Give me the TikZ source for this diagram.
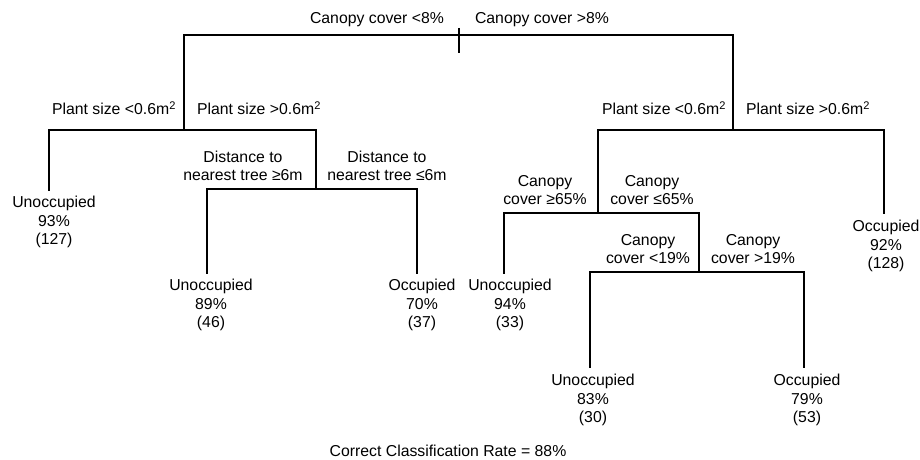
\documentclass[tikz,border=0pt]{standalone}
\usepackage{fontspec}
\setmainfont{Liberation Sans}
\begin{document}
\begin{tikzpicture}[x=1pt,y=-1pt,
  lbl/.style={inner sep=0pt,align=center,font=\fontsize{15.8}{18.6}\selectfont},
  leaf/.style={inner sep=0pt,align=center,font=\fontsize{15.8}{18.6}\selectfont},
  edge/.style={line width=1.8pt,line cap=rect}]
\useasboundingbox (0,0) rectangle (920,460);
% junction coordinates
\coordinate (top) at (458.7,28);
\coordinate (tickb) at (458.7,53);
\coordinate (a1) at (184,35);
\coordinate (b1) at (733,35);
\coordinate (a2) at (184,130);
\coordinate (a2l) at (49,130);
\coordinate (a2r) at (316,130);
\coordinate (e1) at (49,190);
\coordinate (a3) at (316,189);
\coordinate (a3l) at (207,189);
\coordinate (a3r) at (417,189);
\coordinate (e2) at (207,273);
\coordinate (e3) at (417,273);
\coordinate (b2) at (733,130);
\coordinate (b2l) at (598,130);
\coordinate (b2r) at (884,130);
\coordinate (e4) at (884,213);
\coordinate (b3) at (598,213);
\coordinate (b3l) at (504,213);
\coordinate (b3r) at (699,213);
\coordinate (e5) at (504,273);
\coordinate (b4) at (699,272);
\coordinate (b4l) at (590,272);
\coordinate (b4r) at (804,272);
\coordinate (e6) at (590,367);
\coordinate (e7) at (804,367);
% tree lines
\draw[edge] (a1) -- (b1);
\draw[edge,line cap=butt] (top) -- (tickb);
\draw[edge] (a1) -- (a2);
\draw[edge] (a2l) -- (a2r);
\draw[edge] (a2l) -- (e1);
\draw[edge] (a2r) -- (a3);
\draw[edge] (a3l) -- (a3r);
\draw[edge] (a3l) -- (e2);
\draw[edge] (a3r) -- (e3);
\draw[edge] (b1) -- (b2);
\draw[edge] (b2l) -- (b2r);
\draw[edge] (b2r) -- (e4);
\draw[edge] (b2l) -- (b3);
\draw[edge] (b3l) -- (b3r);
\draw[edge] (b3l) -- (e5);
\draw[edge] (b3r) -- (b4);
\draw[edge] (b4l) -- (b4r);
\draw[edge] (b4l) -- (e6);
\draw[edge] (b4r) -- (e7);
% split labels
\node[lbl] (l1) at (377,20) {Canopy cover <8\%};
\node[lbl] (l2) at (542,20) {Canopy cover >8\%};
\node[lbl] (l3) at (114,108) {Plant size <0.6m\textsuperscript{2}};
\node[lbl] (l4) at (259,108) {Plant size >0.6m\textsuperscript{2}};
\node[lbl] (l5) at (243,166) {Distance to\\nearest tree ≥6m};
\node[lbl] (l6) at (387,166) {Distance to\\nearest tree ≤6m};
\node[lbl] (l7) at (664,108) {Plant size <0.6m\textsuperscript{2}};
\node[lbl] (l8) at (808,108) {Plant size >0.6m\textsuperscript{2}};
\node[lbl] (l9) at (545,190) {Canopy\\cover ≥65\%};
\node[lbl] (l10) at (652,190) {Canopy\\cover ≤65\%};
\node[lbl] (l11) at (648,249) {Canopy\\cover <19\%};
\node[lbl] (l12) at (753,249) {Canopy\\cover >19\%};
% leaves
\node[leaf] (n1) at (54,222) {Unoccupied\\93\%\\(127)};
\node[leaf] (n2) at (211,305) {Unoccupied\\89\%\\(46)};
\node[leaf] (n3) at (422,305) {Occupied\\70\%\\(37)};
\node[leaf] (n4) at (510,305) {Unoccupied\\94\%\\(33)};
\node[leaf] (n5) at (886,246) {Occupied\\92\%\\(128)};
\node[leaf] (n6) at (593,400) {Unoccupied\\83\%\\(30)};
\node[leaf] (n7) at (807,400) {Occupied\\79\%\\(53)};
% footer
\node[lbl] (foot) at (448,451) {Correct Classification Rate = 88\%};
\end{tikzpicture}
\end{document}
